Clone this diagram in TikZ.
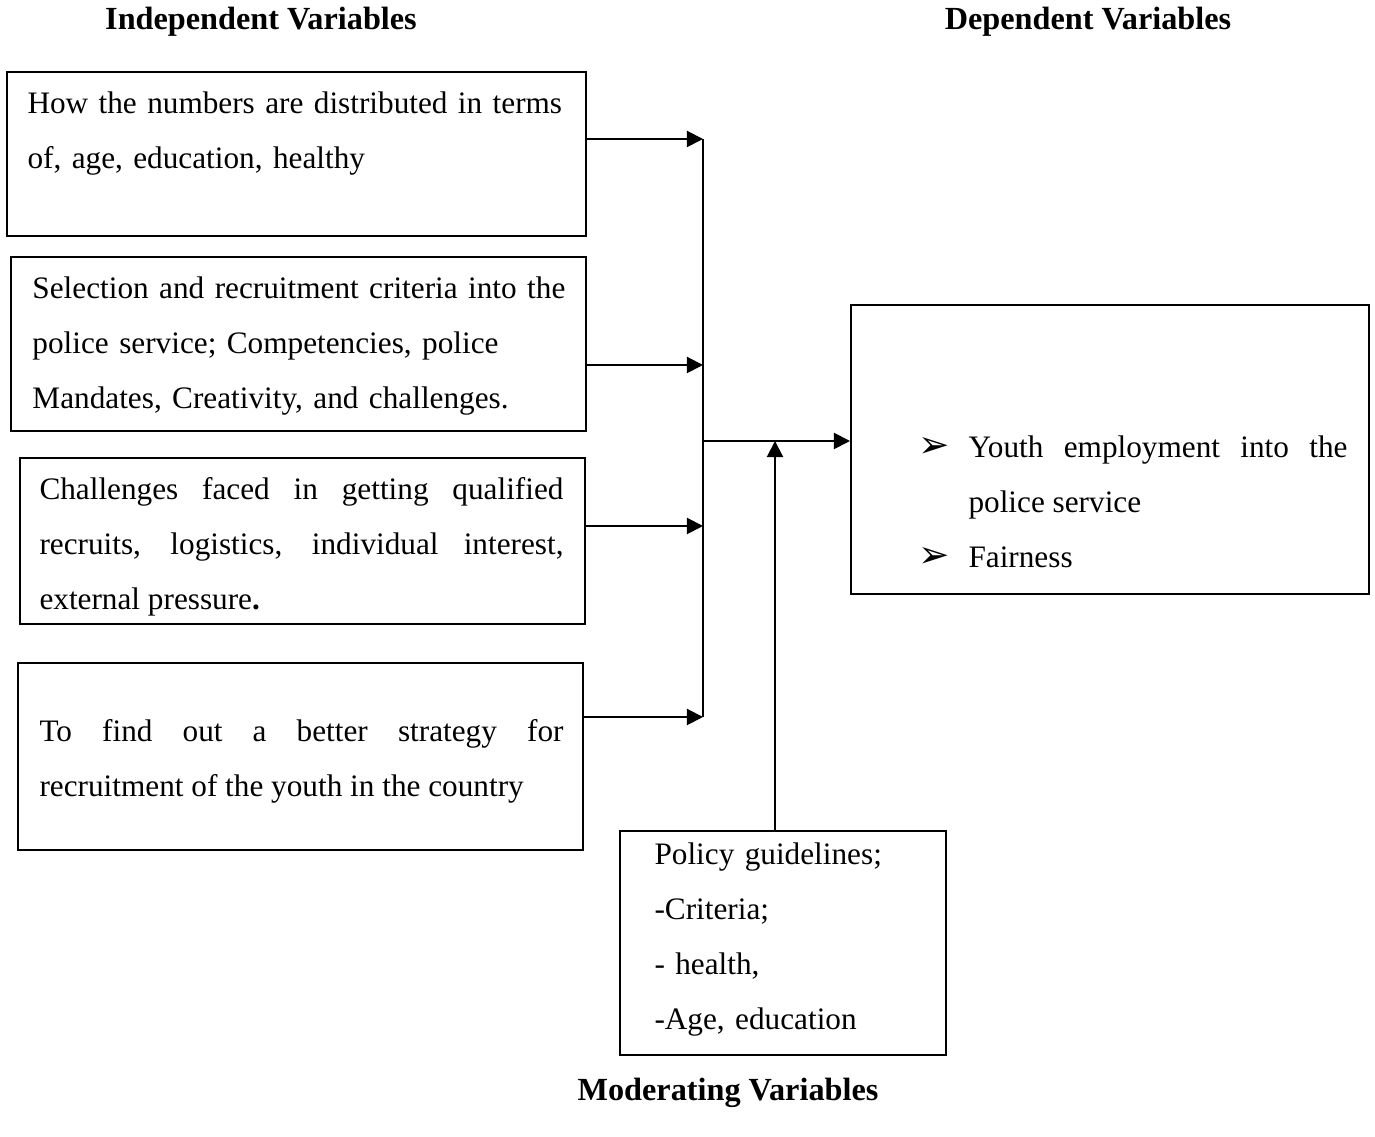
\documentclass[tikz,border=0pt]{standalone}
\usepackage{fontspec}
\setmainfont{Liberation Serif}
\newfontfamily\dejavu{DejaVu Sans}
\usetikzlibrary{arrows.meta}
\hyphenpenalty=10000\relax
\exhyphenpenalty=10000\relax
\begin{document}
\begin{tikzpicture}[x=0.4pt,y=-0.4pt,
  box/.style={draw,line width=0.8pt,rectangle,inner sep=0pt},
  txt/.style={anchor=north west,inner sep=0pt,font=\fontsize{12.5}{22}\selectfont},
  ttl/.style={inner sep=0pt,font=\fontsize{12.9}{14}\selectfont\bfseries},
  arr/.style={line width=0.8pt,-{Triangle[length=6.5pt,width=6.5pt]}},
  ln/.style={line width=0.8pt}]
\useasboundingbox (0,0) rectangle (1375,1137);
% titles
\node[ttl] (t1) at (261,22) {Independent Variables};
\node[ttl] (t2) at (1088,22) {Dependent Variables};
\node[ttl] (t3) at (728,1093) {Moderating Variables};
% boxes
\node[box,minimum width=231.6pt,minimum height=65.6pt] (b1) at (296.5,154) {};
\node[box,minimum width=230pt,minimum height=69.6pt] (b2) at (298.5,344) {};
\node[box,minimum width=226pt,minimum height=66.4pt] (b3) at (302.5,541) {};
\node[box,minimum width=226pt,minimum height=74.8pt] (b4) at (300.5,756.5) {};
\node[box,minimum width=207.2pt,minimum height=115.6pt] (b5) at (1110,449.5) {};
\node[box,minimum width=130.4pt,minimum height=89.6pt] (b6) at (783,943) {};
% texts
\node[txt,text width=222pt,align=left] (x1) at (27,91)
  {How the numbers are distributed in terms\\ of, age, education, healthy};
\node[txt,text width=222pt,align=left] (x2) at (32,276)
  {Selection and recruitment criteria into the\\ police service; Competencies, police\\ Mandates, Creativity, and challenges.};
\node[txt,text width=209.6pt,align=justify] (x3) at (39,477)
  {Challenges faced in getting qualified\linebreak recruits, logistics, individual interest,\linebreak external pressure\textbf{.}};
\node[txt,text width=209.6pt,align=justify] (x4) at (39,719)
  {To find out a better strategy for\linebreak recruitment of the youth in the country};
\node[txt,text width=171.6pt,align=justify] (x5) at (918,435)
  {\hangindent=20pt\hangafter=1\makebox[20pt][l]{\dejavu\fontsize{15}{22}\selectfont ➢}Youth employment into the\linebreak police service\par
   \makebox[20pt][l]{\dejavu\fontsize{15}{22}\selectfont ➢}Fairness\par};
\node[txt,text width=125pt,align=left] (x6) at (654,842)
  {Policy guidelines;\\ -Criteria;\\ - health,\\ -Age, education};
% connectors
\coordinate (j1) at (703,139);
\coordinate (j2) at (703,365);
\coordinate (j3) at (703,526);
\coordinate (j4) at (703,717);
\coordinate (jm) at (703,441);
\coordinate (mx) at (775,441);
\draw[arr] (b1.east |- j1) -- (j1);
\draw[arr] (b2.east |- j2) -- (j2);
\draw[arr] (b3.east |- j3) -- (j3);
\draw[arr] (b4.east |- j4) -- (j4);
\draw[ln] (j1) -- (j4);
\draw[arr] (jm) -- (b5.west |- jm);
\draw[arr] (b6.north -| mx) -- (mx);
\end{tikzpicture}
\end{document}
